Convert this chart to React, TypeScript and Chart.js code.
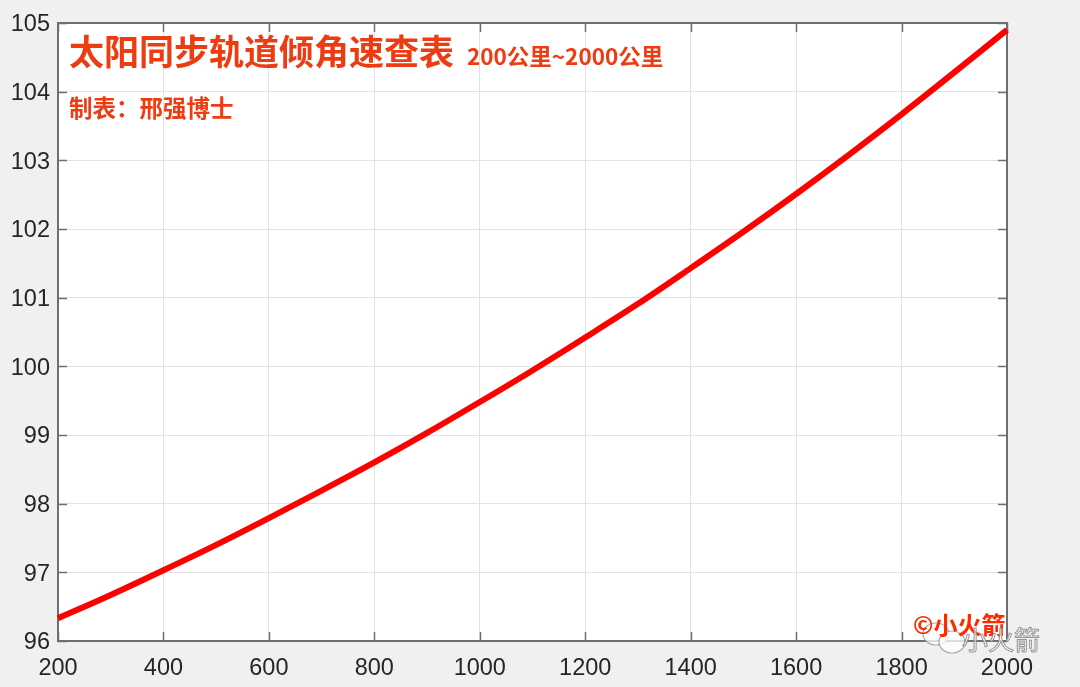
import React, { useEffect, useRef } from "react";
import { Chart, registerables } from "chart.js";

Chart.register(...registerables);

// Altitude (km) and sun-synchronous inclination (deg)
const altitudes = [200, 300, 400, 500, 600, 700, 800, 900, 1000, 1100, 1200, 1300, 1400, 1500, 1600, 1700, 1800, 1900, 2000];
const inclinations = [96.33, 96.67, 97.03, 97.4, 97.79, 98.19, 98.6, 99.03, 99.48, 99.94, 100.42, 100.91, 101.43, 101.96, 102.51, 103.08, 103.67, 104.28, 104.9];

const xTickValues = [200, 400, 600, 800, 1000, 1200, 1400, 1600, 1800, 2000];
const yTickValues = [96, 97, 98, 99, 100, 101, 102, 103, 104, 105];

const titleText = "太阳同步轨道倾角速查表";
const subtitleText = "200公里~2000公里";
const authorText = "制表：邢强博士";
const watermarkRed = "©小火箭";
const watermarkGray = "小火箭";

const CJK = '"Noto Sans CJK SC", "Noto Sans", sans-serif';
const TEXT_RED = "#ee3c12";

const decorPlugin = {
  id: "decor",
  beforeDraw(chart: any) {
    const { ctx, chartArea } = chart;
    ctx.save();
    ctx.fillStyle = "#f0f0f0";
    ctx.fillRect(0, 0, chart.width, chart.height);
    ctx.fillStyle = "#ffffff";
    ctx.fillRect(chartArea.left, chartArea.top, chartArea.right - chartArea.left, chartArea.bottom - chartArea.top);
    ctx.restore();
  },
  beforeDatasetsDraw(chart: any) {
    const { ctx, chartArea } = chart;
    const { left, right, top, bottom } = chartArea;
    const xs = chart.scales.x;
    const ys = chart.scales.y;
    const tl = 9;
    ctx.save();
    ctx.strokeStyle = "#6f6f6f";
    ctx.lineWidth = 1.5;
    ctx.beginPath();
    xTickValues.forEach((v) => {
      const px = Math.round(xs.getPixelForValue(v)) + 0.5;
      ctx.moveTo(px, bottom);
      ctx.lineTo(px, bottom - tl);
      ctx.moveTo(px, top);
      ctx.lineTo(px, top + tl);
    });
    yTickValues.forEach((v) => {
      const py = Math.round(ys.getPixelForValue(v)) + 0.5;
      ctx.moveTo(left, py);
      ctx.lineTo(left + tl, py);
      ctx.moveTo(right, py);
      ctx.lineTo(right - tl, py);
    });
    ctx.stroke();
    ctx.lineWidth = 2;
    ctx.strokeRect(left, top, right - left, bottom - top);
    ctx.restore();
  },
  afterDraw(chart: any) {
    const { ctx } = chart;
    ctx.save();
    ctx.textBaseline = "middle";
    ctx.textAlign = "left";
    ctx.fillStyle = TEXT_RED;
    ctx.font = `bold 35px ${CJK}`;
    ctx.fillText(titleText, 69, 52);
    ctx.font = `bold 22.5px ${CJK}`;
    ctx.fillText(subtitleText, 467, 56);
    ctx.font = `bold 23.5px ${CJK}`;
    ctx.fillText(authorText, 69, 108);

    // watermark: chat bubbles
    ctx.strokeStyle = "rgba(150,150,150,0.8)";
    ctx.fillStyle = "rgba(255,255,255,0.75)";
    ctx.lineWidth = 1.2;
    ctx.beginPath();
    ctx.ellipse(936, 634, 13, 11, 0, 0, Math.PI * 2);
    ctx.fill();
    ctx.stroke();
    ctx.beginPath();
    ctx.ellipse(952, 642, 13, 11, 0, 0, Math.PI * 2);
    ctx.fill();
    ctx.stroke();

    ctx.font = `bold 24px ${CJK}`;
    ctx.fillStyle = "#ff2a00";
    ctx.fillText(watermarkRed, 913, 625);

    ctx.font = `26px ${CJK}`;
    ctx.fillStyle = "rgba(255,255,255,0.7)";
    ctx.strokeStyle = "rgba(140,140,140,0.9)";
    ctx.lineWidth = 1;
    ctx.fillText(watermarkGray, 962, 640);
    ctx.strokeText(watermarkGray, 962, 640);
    ctx.restore();
  },
};

export default function App() {
  const canvasRef = useRef<HTMLCanvasElement | null>(null);

  useEffect(() => {
    if (!canvasRef.current) return;
    const tickFont = { family: '"Liberation Sans", Arial, sans-serif', size: 23.5 };
    const chart = new Chart(canvasRef.current, {
      type: "line",
      data: {
        datasets: [
          {
            data: altitudes.map((a, i) => ({ x: a, y: inclinations[i] })),
            borderColor: "#ff0000",
            borderWidth: 6,
            pointRadius: 0,
            cubicInterpolationMode: "monotone",
            fill: false,
            clip: 6,
          },
        ],
      },
      options: {
        responsive: false,
        animation: false,
        devicePixelRatio: 1,
        layout: { padding: { left: 0, top: 23, right: 73, bottom: 0 } },
        plugins: {
          legend: { display: false },
          tooltip: { enabled: false },
          title: { display: false },
        },
        scales: {
          x: {
            type: "linear",
            min: 200,
            max: 2000,
            afterBuildTicks: (scale: any) => {
              scale.ticks = xTickValues.map((v) => ({ value: v }));
            },
            afterFit: (scale: any) => {
              scale.height = 46;
            },
            grid: { color: "#e2e2e2", lineWidth: 1, drawTicks: false },
            border: { display: false },
            ticks: {
              font: tickFont,
              color: "#262626",
              padding: 13,
              maxRotation: 0,
              callback: (v: any) => String(v),
            },
          },
          y: {
            type: "linear",
            min: 96,
            max: 105,
            afterBuildTicks: (scale: any) => {
              scale.ticks = yTickValues.map((v) => ({ value: v }));
            },
            afterFit: (scale: any) => {
              scale.width = 58;
            },
            grid: { color: "#e2e2e2", lineWidth: 1, drawTicks: false },
            border: { display: false },
            ticks: {
              font: tickFont,
              color: "#262626",
              padding: 8,
              labelOffset: 2,
              callback: (v: any) => String(v),
            },
          },
        },
      } as any,
      plugins: [decorPlugin],
    });
    return () => chart.destroy();
  }, []);

  return (
    <div style={{ position: "absolute", left: 0, top: 0, width: 1080, height: 687, background: "#f0f0f0" }}>
      <canvas ref={canvasRef} width={1080} height={687} style={{ display: "block", width: 1080, height: 687 }} />
    </div>
  );
}
